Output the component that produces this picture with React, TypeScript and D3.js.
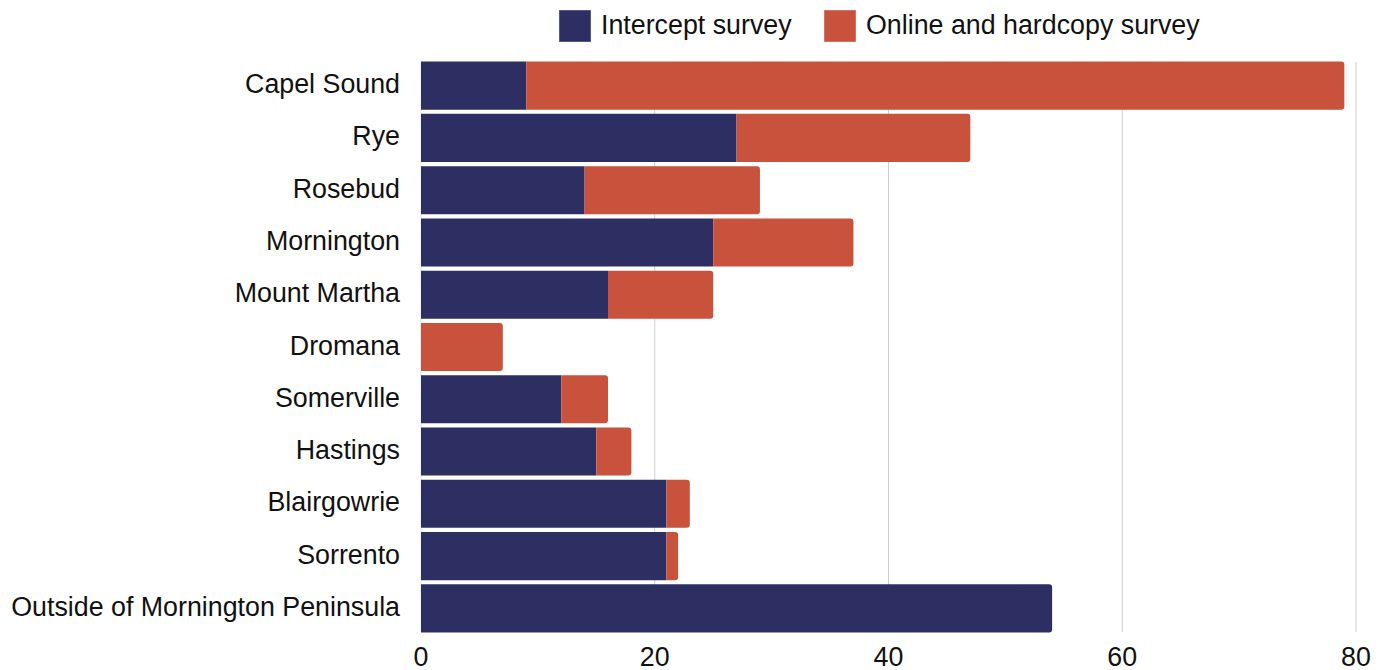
import React from "react";
import * as d3 from "d3";

const categories = [
  "Capel Sound",
  "Rye",
  "Rosebud",
  "Mornington",
  "Mount Martha",
  "Dromana",
  "Somerville",
  "Hastings",
  "Blairgowrie",
  "Sorrento",
  "Outside of Mornington Peninsula",
];
const intercept = [9, 27, 14, 25, 16, 0, 12, 15, 21, 21, 54];
const onlineHardcopy = [70, 20, 15, 12, 9, 7, 4, 3, 2, 1, 0];
const seriesNames = ["Intercept survey", "Online and hardcopy survey"];
const xTicks = [0, 20, 40, 60, 80];

const WIDTH = 1389;
const HEIGHT = 670;
const COLORS = ["#2d2f63", "#c8523c"];
const FONT = "'Liberation Sans', Arial, Helvetica, sans-serif";
const FONT_SIZE = 26.8;

// Rectangle with only the right-hand corners rounded
function barPath(x0: number, x1: number, y: number, h: number, r: number, round: boolean) {
  const w = x1 - x0;
  if (!round || w <= 0) return `M${x0},${y}h${w}v${h}h${-w}Z`;
  const rr = Math.min(r, w, h / 2);
  return `M${x0},${y}H${x1 - rr}Q${x1},${y} ${x1},${y + rr}V${y + h - rr}Q${x1},${y + h} ${x1 - rr},${y + h}H${x0}Z`;
}

export default function App() {
  const x = d3.scaleLinear().domain([0, 80]).range([421, 1356]);
  const y = d3
    .scaleBand<string>()
    .domain(categories)
    .range([59.5, 634.5])
    .paddingInner(0.08)
    .paddingOuter(0.04);

  const rows = categories.map((c, i) => ({ c, vals: [intercept[i], onlineHardcopy[i]] }));
  const stack = d3
    .stack<{ c: string; vals: number[] }, number>()
    .keys([0, 1])
    .value((d, k) => d.vals[k]);
  const layers = stack(rows);

  const plotTop = y.range()[0] + 2.5;
  const plotBottom = y.range()[1] - 2.5;

  return (
    <svg width={WIDTH} height={HEIGHT} style={{ position: "absolute", left: 0, top: 0 }}>
      <rect width={WIDTH} height={HEIGHT} fill="#ffffff" />
      {/* vertical gridlines */}
      {xTicks.map((t) => (
        <line
          key={`g${t}`}
          x1={x(t)}
          x2={x(t)}
          y1={plotTop}
          y2={plotBottom}
          stroke={t === 0 ? "#e0e0e0" : "#cfcfcf"}
          strokeWidth={1}
        />
      ))}
      {/* stacked bars */}
      {layers.map((layer, li) =>
        layer.map((seg, i) => {
          const [v0, v1] = seg;
          if (v1 - v0 <= 0) return null;
          const isLast = layers.slice(li + 1).every((l) => l[i][1] - l[i][0] <= 0);
          return (
            <path
              key={`${li}-${i}`}
              d={barPath(x(v0), x(v1), y(categories[i])!, y.bandwidth(), 3, isLast)}
              fill={COLORS[li]}
            />
          );
        })
      )}
      {/* category labels */}
      {categories.map((c) => (
        <text
          key={c}
          x={400}
          y={y(c)! + y.bandwidth() / 2 + 7.5}
          textAnchor="end"
          fontFamily={FONT}
          fontSize={FONT_SIZE}
          fill="#111"
        >
          {c}
        </text>
      ))}
      {/* x tick labels */}
      {xTicks.map((t) => (
        <text
          key={`t${t}`}
          x={x(t)}
          y={666}
          textAnchor="middle"
          fontFamily={FONT}
          fontSize={FONT_SIZE}
          fill="#111"
        >
          {t}
        </text>
      ))}
      {/* legend */}
      {seriesNames.map((s, i) => {
        const lx = [559, 824][i];
        return (
          <g key={s}>
            <rect x={lx} y={10} width={32} height={32} fill={COLORS[i]} stroke="#ffffff" strokeOpacity={0.4} />
            <text x={lx + 42} y={34} fontFamily={FONT} fontSize={FONT_SIZE} fill="#111">
              {s}
            </text>
          </g>
        );
      })}
    </svg>
  );
}
